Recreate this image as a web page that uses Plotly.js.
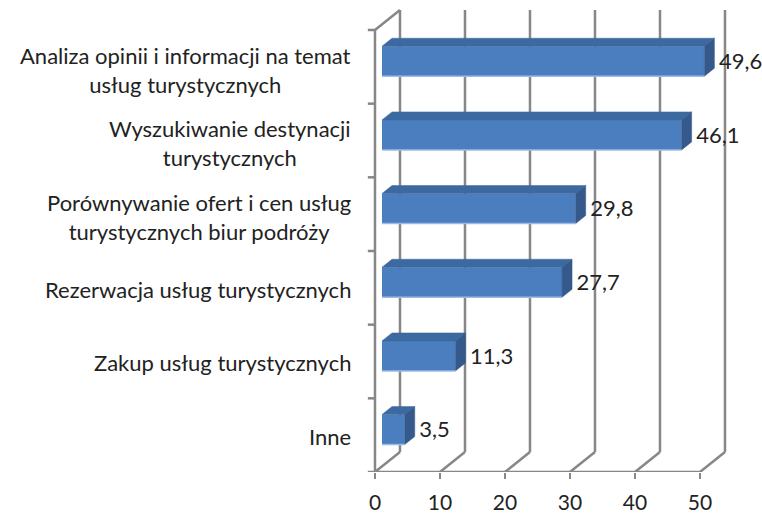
<!DOCTYPE html>
<html>
<head>
<meta charset="utf-8">
<script src="https://cdn.plot.ly/plotly-3.0.1.min.js"></script>
<style>html,body{margin:0;padding:0;background:#fff}#chart{width:762px;height:515px}</style>
</head>
<body>
<div id="chart"></div>
<script>
// ---- data (top to bottom in the picture) ----
const categories = [
  "Analiza opinii i informacji na temat<br>usług turystycznych",
  "Wyszukiwanie destynacji<br>turystycznych",
  "Porównywanie ofert i cen usług<br>turystycznych biur podróży",
  "Rezerwacja usług turystycznych",
  "Zakup usług turystycznych",
  "Inne"
];
const values = [49.6, 46.1, 29.8, 27.7, 11.3, 3.5];
const xTicks = [0, 10, 20, 30, 40, 50];

// ---- pseudo 3D geometry (in axis units) ----
const DX = 3.846, DY = 0.2715;      // full depth offset
const D0 = 0.28, DD = 0.4;          // bar front depth and bar depth
const HALF = 0.2035;                // half bar thickness
const n = categories.length;
const yc = categories.map((c, i) => n - 1 - i + 0.5); // front category centre
const gray = '#878787';
const font = 'Lato, "Open Sans", sans-serif';
const FS = 22;

const x0 = D0 * DX, yOff = D0 * DY;
const fc = yc.map(c => c + yOff);

const traces = [];
// front faces via bar trace
traces.push({
  type: 'bar', orientation: 'h',
  x: values, base: values.map(() => x0), y: fc, width: 2 * HALF,
  marker: {color: '#4a7ebf', line: {width: 0}},
  hoverinfo: 'skip', showlegend: false
});
// top and side faces
values.forEach((v, i) => {
  const yT = fc[i] + HALF, yB = fc[i] - HALF, xe = x0 + v;
  const dx = DD * DX, dy = DD * DY;
  traces.push({
    type: 'scatter', mode: 'lines', fill: 'toself',
    x: [x0, xe, xe + dx, x0 + dx, x0], y: [yT, yT, yT + dy, yT + dy, yT],
    fillcolor: '#3d69a1', line: {width: 0.5, color: '#3d69a1'},
    hoverinfo: 'skip', showlegend: false
  });
  traces.push({
    type: 'scatter', mode: 'lines', fill: 'toself',
    x: [xe, xe + dx, xe + dx, xe, xe], y: [yB, yB + dy, yT + dy, yT, yB],
    fillcolor: '#35598a', line: {width: 0.5, color: '#35598a'},
    hoverinfo: 'skip', showlegend: false
  });
  traces.push({
    type: 'scatter', mode: 'lines',
    x: [x0, xe], y: [yB, yB],
    line: {width: 1.5, color: '#9dbbe4'},
    hoverinfo: 'skip', showlegend: false
  });
});
// value labels
traces.push({
  type: 'scatter', mode: 'text',
  x: values.map(v => x0 + v + DD * DX + 0.7), y: fc.map(y => y - 0.03),
  text: values.map(v => v.toFixed(1).replace('.', ',')),
  textposition: 'middle right',
  textfont: {family: font, size: FS, color: '#222'},
  cliponaxis: false, hoverinfo: 'skip', showlegend: false
});

// walls / grid
const shapes = [];
const L = (xa, ya, xb, yb) => ({type: 'line', xref: 'x', yref: 'y', x0: xa, y0: ya, x1: xb, y1: yb,
  layer: 'below', line: {color: gray, width: 2.5}});
xTicks.forEach(t => {
  shapes.push(L(t + DX, DY, t + DX, n + DY));   // back plane verticals
  shapes.push(L(t, 0, t + DX, DY));             // floor diagonals
});
shapes.push(L(0, 0, 0, n));                      // left wall front edge
shapes.push(L(0, n, DX, n + DY));                // left wall top edge
shapes.push(L(0, 0, xTicks[xTicks.length - 1], 0)); // floor front edge
for (let k = 0; k <= n; k++) shapes.push(L(-1.1, k, 0, k)); // category ticks

// category labels
const annotations = categories.map((c, i) => ({
  xref: 'x', yref: 'y', x: -3.4, y: yc[i] - (c.includes('<br>') ? 0.04 : 0.02),
  xanchor: 'right', yanchor: 'middle', align: 'center', showarrow: false,
  text: c, font: {family: font, size: FS, color: '#222'}
}));

const layout = {
  width: 762, height: 515,
  margin: {l: 0, r: 0, t: 0, b: 43},
  paper_bgcolor: '#fff', plot_bgcolor: '#fff',
  showlegend: false,
  xaxis: {range: [-57.69, 59.54], tickvals: xTicks, ticktext: xTicks.map(String),
    ticks: 'outside', ticklen: 6, tickwidth: 2, tickcolor: gray,
    ticklabelstandoff: 6,
    showgrid: false, zeroline: false, showline: false, fixedrange: true,
    tickfont: {family: font, size: 21, color: '#222'}},
  yaxis: {range: [0, 6.407], visible: false, fixedrange: true},
  shapes: shapes, annotations: annotations
};
Plotly.newPlot('chart', traces, layout, {displayModeBar: false, staticPlot: true});
</script>
</body>
</html>
